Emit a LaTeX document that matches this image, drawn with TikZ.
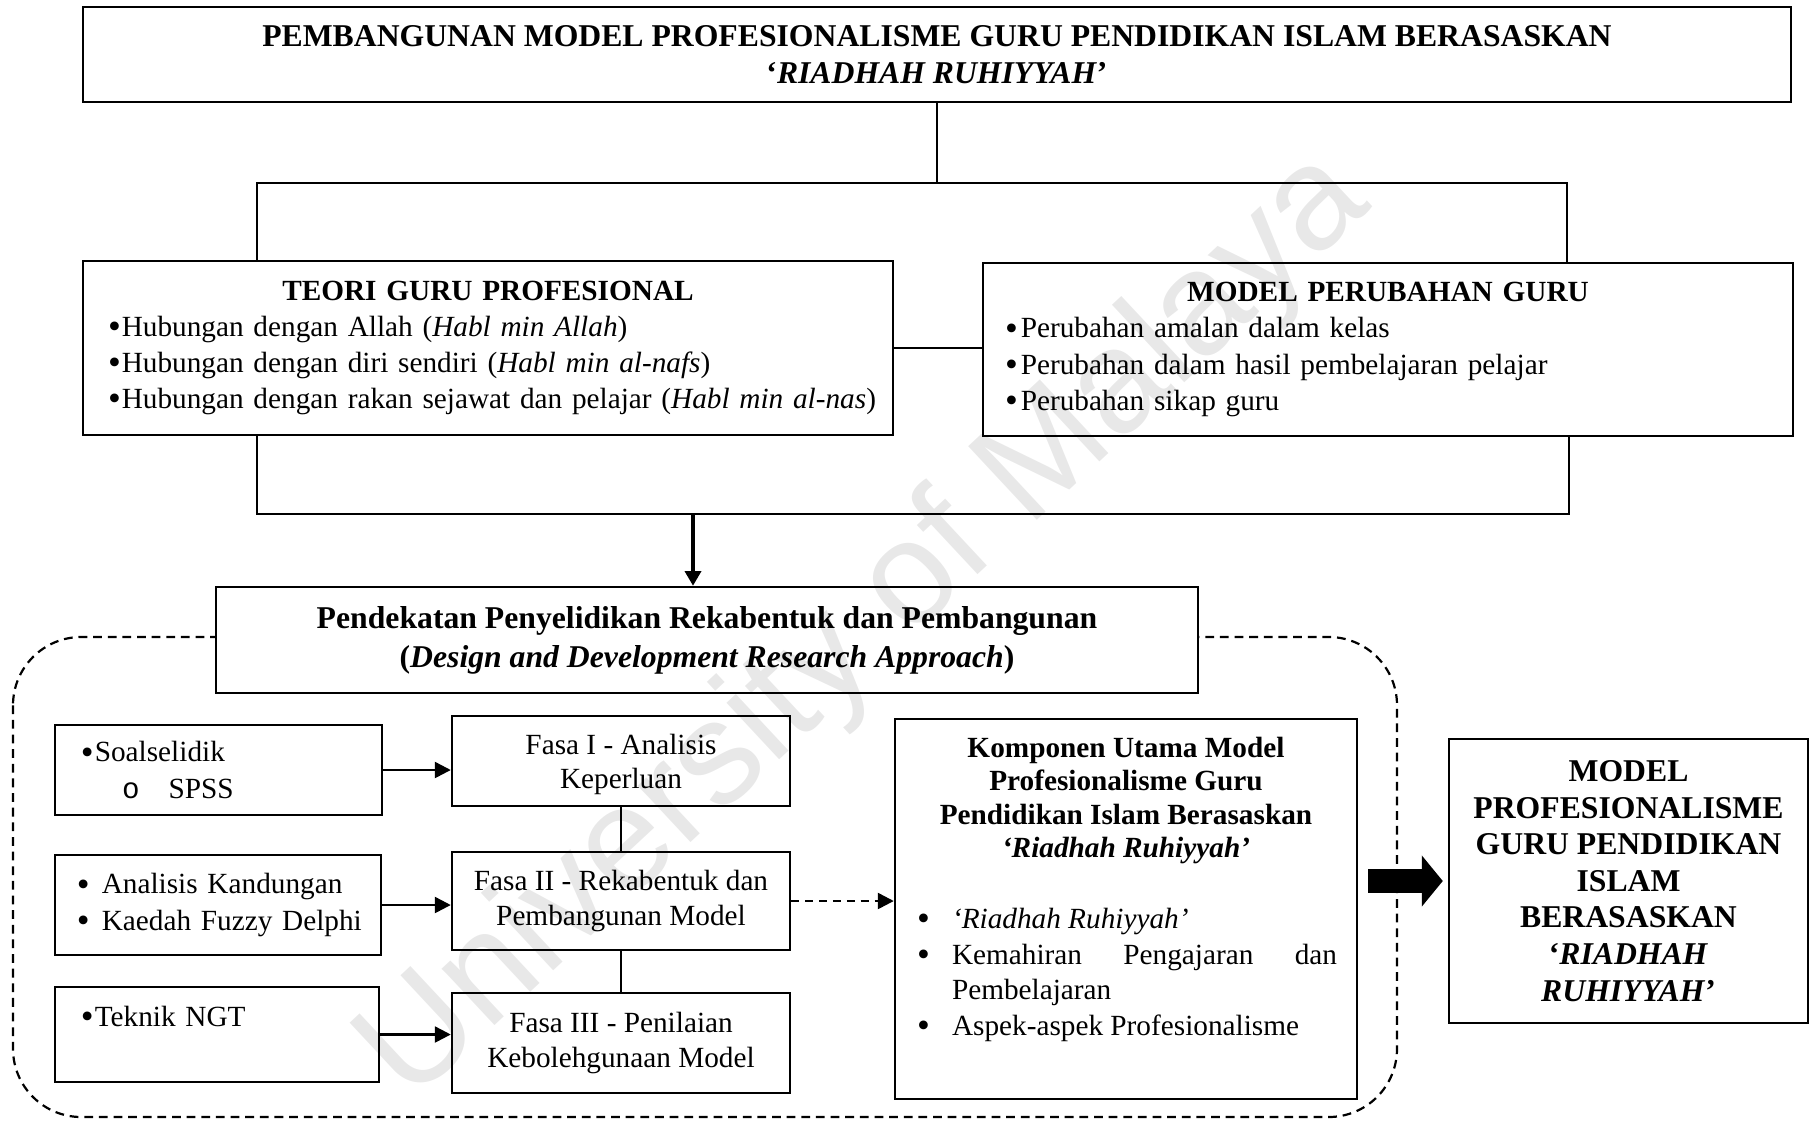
\documentclass[tikz,border=0pt]{standalone}
\usepackage{fontspec}
\setmainfont{Liberation Serif}
\newfontfamily\courierfont{Liberation Mono}
\newfontfamily\wmfont{Liberation Sans}
\usetikzlibrary{arrows.meta}
\newlength\pxu
\setlength\pxu{0.41pt}
\newcommand\dotmark{\raisebox{-0.9pt}{\fontsize{15}{15}\selectfont\textbullet}}
\newcommand\kbullet[1]{\hangindent=35\pxu\hangafter=1\noindent\makebox[35\pxu][l]{\dotmark}#1\par}

\begin{document}
\begin{tikzpicture}[x=\pxu, y=-1\pxu,
    box/.style={draw, line width=1pt, inner sep=0pt},
    bodytext/.style={font=\fontsize{12}{14.8}\selectfont},
    fasatext/.style={font=\fontsize{12}{14}\selectfont},
    headtext/.style={font=\fontsize{13}{15.4}\selectfont\bfseries},
    link/.style={line width=0.8pt},
    feed/.style={line width=1pt, -{Triangle[length=6.5pt,width=6.5pt]}},
    bigfeed/.style={line width=2pt, -{Triangle[length=6pt,width=6.5pt]}},
    fatfeed/.style={line width=9.8pt, -{Triangle[length=8.6pt,width=20.5pt]}}]
  \useasboundingbox (0,0) rectangle (1812,1120);

  % dashed frame round the research approach
  \draw[line width=0.9pt, dash pattern=on 3.6pt off 2.4pt, rounded corners=28pt]
    (13,637) rectangle (1397,1117);

  \node[box, headtext, minimum width=1708\pxu, minimum height=95\pxu, align=center] (title) at (937,54.5)
    {PEMBANGUNAN MODEL PROFESIONALISME GURU PENDIDIKAN ISLAM BERASASKAN\\`\textit{RIADHAH RUHIYYAH}'};

  \node[box, bodytext, minimum height=174\pxu, text width=810\pxu] (teori) at (488,348)
    {{\centering\bfseries TEORI GURU PROFESIONAL\par}
     \leftskip=25\pxu
     \dotmark\hspace{1\pxu}Hubungan dengan Allah (\textit{Habl min Allah})\par
     \dotmark\hspace{1\pxu}Hubungan dengan diri sendiri (\textit{Habl min al-nafs})\par
     \dotmark\hspace{1\pxu}Hubungan dengan rakan sejawat dan pelajar (\textit{Habl min al-nas})\par};
  \node[box, bodytext, minimum height=173\pxu, text width=810\pxu] (mpg) at (1388,349.5)
    {{\centering\bfseries MODEL PERUBAHAN GURU\par}
     \leftskip=22\pxu
     \dotmark\hspace{3\pxu}Perubahan amalan dalam kelas\par
     \dotmark\hspace{3\pxu}Perubahan dalam hasil pembelajaran pelajar\par
     \dotmark\hspace{3\pxu}Perubahan sikap guru\par};

  \coordinate (upleft) at (257,183);
  \coordinate (upright) at (1567,183);
  \coordinate (lowleft) at (257,514);
  \coordinate (lowright) at (1569,514);
  \coordinate (drop) at (693,514);

  \node[box, headtext, fill=white, minimum width=982\pxu, minimum height=106\pxu, align=center,
    font=\fontsize{13}{16}\selectfont\bfseries] (pend) at (707,640)
    {Pendekatan Penyelidikan Rekabentuk dan Pembangunan\\(\textit{Design and Development Research Approach})};

  \node[box, bodytext, minimum height=90\pxu, text width=327\pxu] (soal) at (218.5,770)
    {\leftskip=26\pxu
     \dotmark\hspace{1\pxu}Soalselidik\par
     \hspace*{41\pxu}{\courierfont o}\hspace{29\pxu}SPSS\par};
  \node[box, bodytext, minimum height=100\pxu, text width=326\pxu] (anal) at (218,905)
    {\leftskip=22\pxu
     \dotmark\hspace{12\pxu}Analisis Kandungan\par
     \dotmark\hspace{12\pxu}Kaedah Fuzzy Delphi\par};
  \node[box, bodytext, minimum height=95\pxu, text width=324\pxu] (ngt) at (217,1034.5)
    {\leftskip=26\pxu
     \dotmark\hspace{1\pxu}Teknik NGT\par
     \mbox{}\par};

  \node[box, fasatext, minimum width=338\pxu, minimum height=90\pxu, align=center] (fasa1) at (621,761)
    {\rule{0pt}{11.5pt}Fasa I - Analisis\\Keperluan};
  \node[box, fasatext, minimum width=338\pxu, minimum height=98\pxu, align=center] (fasa2) at (621,901)
    {Fasa II - Rekabentuk dan\\Pembangunan Model};
  \node[box, fasatext, minimum width=338\pxu, minimum height=100\pxu, align=center] (fasa3) at (621,1043)
    {Fasa III - Penilaian\\Kebolehgunaan Model};

  \node[box, font=\fontsize{12}{13.7}\selectfont, minimum height=380\pxu, text width=462\pxu,
    align=justify] (komp) at (1126,909)
    {{\centering\bfseries Komponen Utama Model\\Profesionalisme Guru\\Pendidikan Islam Berasaskan\\\textit{`Riadhah Ruhiyyah'}\par}
     \vspace{14.5pt}
     {\leftskip=22\pxu \rightskip=20\pxu \baselineskip=14.6pt
      \hyphenpenalty=10000 \tolerance=10000
      \kbullet{\textit{`Riadhah Ruhiyyah'}}
      \kbullet{Kemahiran Pengajaran dan Pembelajaran}
      \kbullet{Aspek-aspek Profesionalisme}}
     \vspace{5pt}\mbox{}\par};

  \node[box, font=\fontsize{13}{15}\selectfont\bfseries, minimum width=359\pxu, minimum height=284\pxu,
    align=center] (final) at (1628.5,881)
    {MODEL\\PROFESIONALISME\\GURU PENDIDIKAN\\ISLAM\\BERASASKAN\\`\textit{RIADHAH}\\\textit{RUHIYYAH}'};

  \draw[link] (title.south) -- (title.south |- upleft);
  \draw[link] (teori.north -| upleft) -- (upleft) -- (upright) -- (mpg.north -| upright);
  \draw[link] (teori.east) -- (teori.east -| mpg.west);
  \draw[link] (teori.south -| lowleft) -- (lowleft) -- (lowright) -- (mpg.south -| lowright);
  \draw[bigfeed] (drop) -- (drop |- pend.north);

  \draw[feed] (soal.east) -- (soal.east -| fasa1.west);
  \draw[feed] (anal.east) -- (anal.east -| fasa2.west);
  \draw[feed] (ngt.east) -- (ngt.east -| fasa3.west);
  \draw[link] (fasa1.south) -- (fasa2.north);
  \draw[link] (fasa2.south) -- (fasa3.north);
  \draw[feed, dash pattern=on 3.3pt off 2.4pt] (fasa2.east) -- (fasa2.east -| komp.west);
  \draw[fatfeed, shorten <=10\pxu, shorten >=5\pxu] (komp.east |- final.west) -- (final.west);

  \node[rotate=43, opacity=0.09, font=\wmfont\fontsize{60}{60}\selectfont] (stamp) at (866,628)
    {University of Malaya};
\end{tikzpicture}
\end{document}
